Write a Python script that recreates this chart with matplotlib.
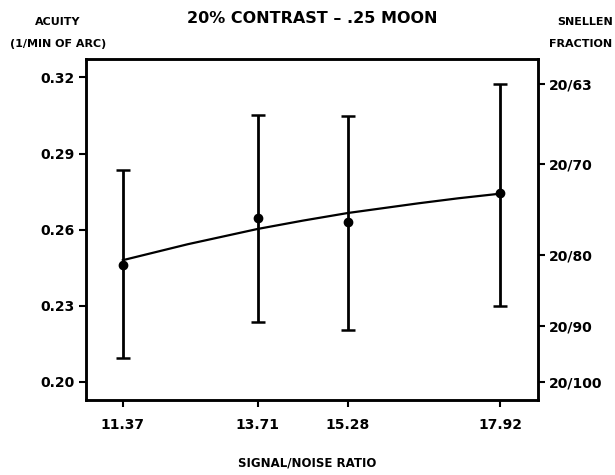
import matplotlib.pyplot as plt
import numpy as np

# mean acuity with range, per signal/noise ratio
snr = [11.37, 13.71, 15.28, 17.92]
acuity = [0.246, 0.2647, 0.2632, 0.2744]
acuity_hi = [0.2835, 0.3052, 0.3049, 0.3174]
acuity_lo = [0.2094, 0.2236, 0.2205, 0.2300]

# fitted trend
fit_snr = [11.37, 12.5, 13.71, 14.5, 15.28, 16.5, 17.2, 17.92]
fit_acuity = [0.248, 0.2543, 0.2603, 0.2636, 0.2666, 0.2704, 0.2724, 0.2742]

left_ticks = [0.20, 0.23, 0.26, 0.29, 0.32]
snellen_denoms = [63, 70, 80, 90, 100]

plt.rcParams["font.family"] = "DejaVu Sans"
plt.rcParams["font.weight"] = "bold"

fig = plt.figure(figsize=(6.15, 4.75), dpi=100)
ax = fig.add_axes([0.1398, 0.1579, 0.735, 0.718])

acuity = np.array(acuity)
yerr = [acuity - np.array(acuity_lo), np.array(acuity_hi) - acuity]
ax.errorbar(snr, acuity, yerr=yerr, fmt="o", color="black", ms=6,
            elinewidth=2, capsize=5, capthick=1.8)
ax.plot(fit_snr, fit_acuity, color="black", lw=1.6)

ax.set_xlim(10.73, 18.58)
ax.set_ylim(0.1929, 0.3273)
ax.set_xticks(snr)
ax.set_xticklabels([f"{v:.2f}" for v in snr])
ax.set_yticks(left_ticks)
ax.set_yticklabels([f"{v:.2f}" for v in left_ticks])

ax2 = ax.twinx()
ax2.set_ylim(ax.get_ylim())
ax2.set_yticks([20 / d for d in snellen_denoms])
ax2.set_yticklabels([f"20/{d}" for d in snellen_denoms])

for a in (ax, ax2):
    for s in a.spines.values():
        s.set_linewidth(1.8)
    a.tick_params(direction="out", length=5, width=1.5, labelsize=10,
                  pad=3)
ax.tick_params(axis="x", pad=8)

fig.text(0.507, 0.962, "20% CONTRAST \u2013 .25 MOON", ha="center",
         va="center", fontsize=11.5, fontweight="bold")
fig.text(0.094, 0.953, "ACUITY", ha="center", va="center", fontsize=8,
         fontweight="bold")
fig.text(0.094, 0.907, "(1/MIN OF ARC)", ha="center", va="center",
         fontsize=8, fontweight="bold")
fig.text(0.996, 0.953, "SNELLEN", ha="right", va="center", fontsize=8,
         fontweight="bold")
fig.text(0.996, 0.907, "FRACTION", ha="right", va="center", fontsize=8,
         fontweight="bold")
fig.text(0.50, 0.025, "SIGNAL/NOISE RATIO", ha="center", va="center",
         fontsize=8.5, fontweight="bold")

fig.savefig("out.png", dpi=100)
